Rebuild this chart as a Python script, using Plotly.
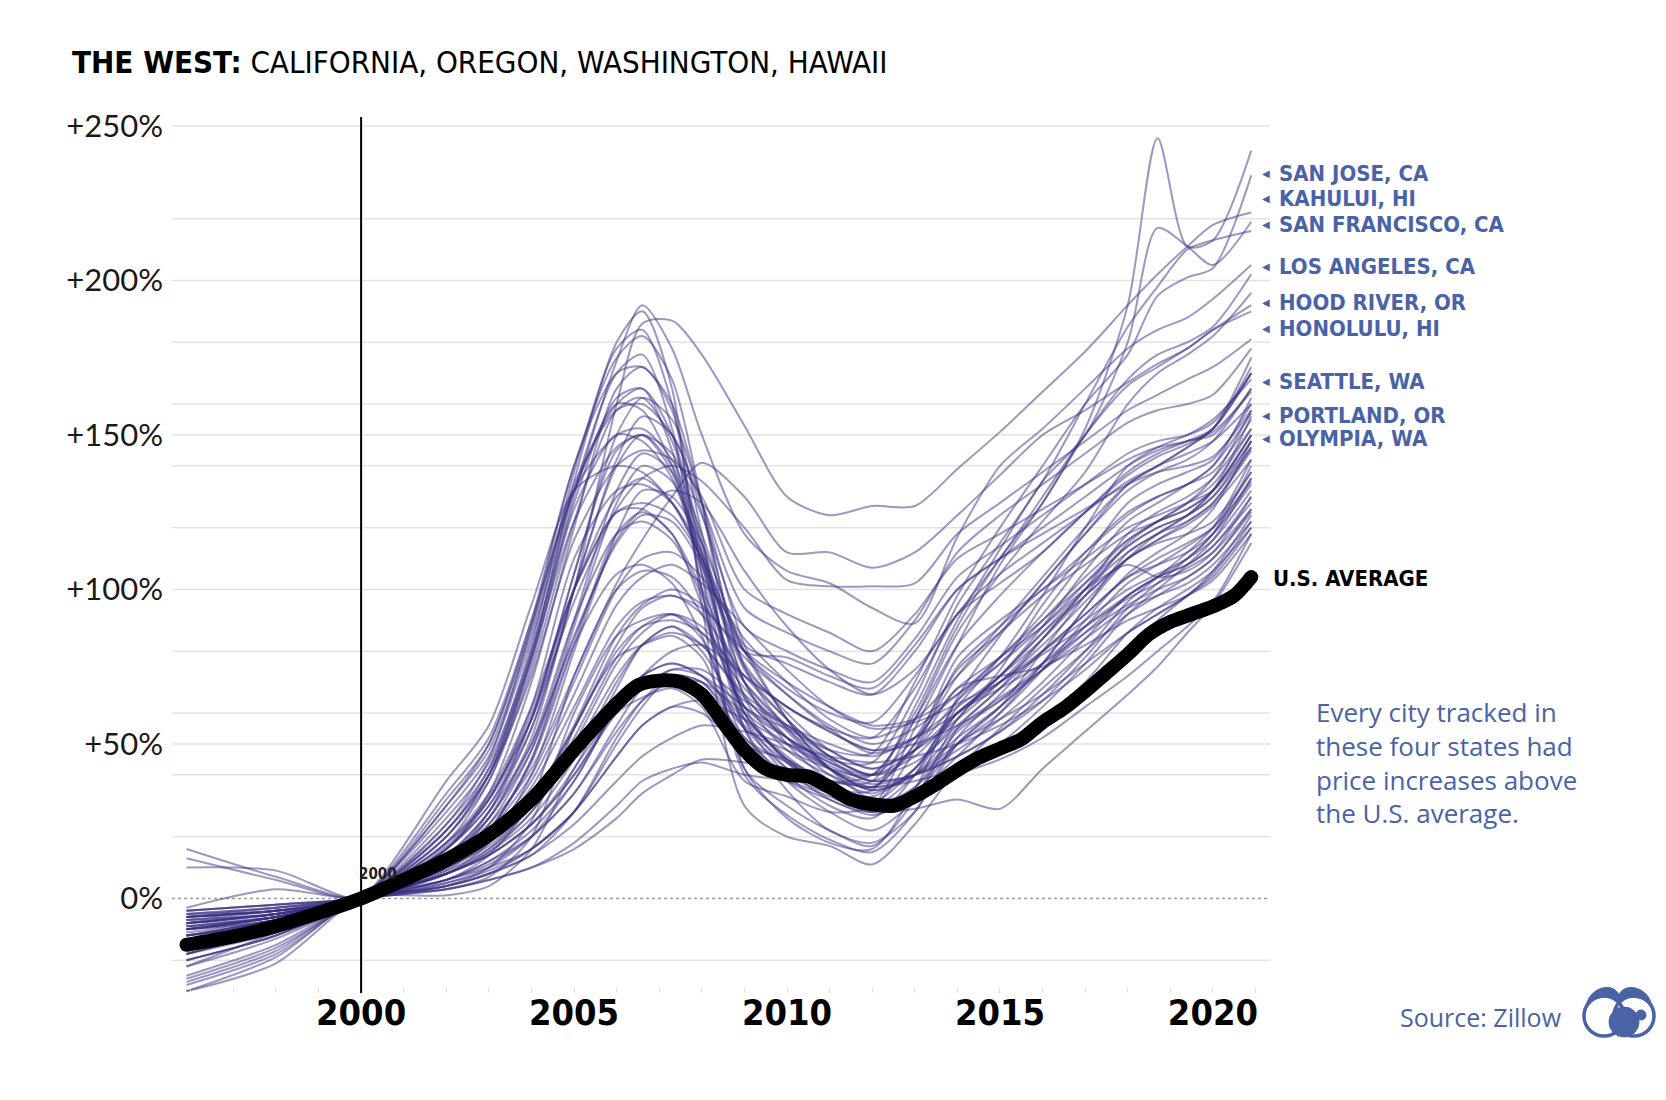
import plotly.graph_objects as go

# ---------------- data (percent change vs. Jan 2000) ----------------
YEARS = [1995.9, 1998, 2000, 2002, 2003, 2004, 2005, 2006, 2006.6, 2007.3, 2008, 2009, 2010,
         2011, 2012, 2013, 2014, 2015, 2016, 2017, 2018, 2018.7, 2019.4, 2020, 2020.9]

HAWAII = [
    [13, 6, 0, 16, 30, 55, 100, 160, 186, 187, 176, 153, 130, 124, 127, 127, 139, 151, 164, 177, 192, 202, 211, 218, 222],
    [16, 7, 0, 12, 24, 42, 72, 102, 116, 130, 141, 130, 112, 112, 107, 112, 124, 137, 150, 158, 167, 173, 178, 184, 190],
    [-3, 3, 0, 9, 20, 38, 66, 95, 104, 108, 102, 88, 74, 62, 55, 57, 63, 70, 79, 88, 97, 102, 107, 112, 126],
    [10, 9, 0, 17, 33, 58, 96, 126, 136, 140, 135, 120, 103, 101, 101, 102, 118, 128, 138, 148, 158, 163, 168, 172, 181],
]

BAY_AREA = [
    [-30, -19, 0, 1, 4, 16, 42, 60, 65, 68, 62, 38, 33, 28, 30, 55, 82, 108, 128, 152, 192, 246, 211, 213, 242],
    [-30, -21, 0, 3, 7, 20, 55, 78, 82, 85, 78, 50, 45, 38, 38, 62, 90, 113, 135, 150, 180, 217, 211, 205, 219],
    [-28, -18, 0, 6, 14, 32, 72, 100, 106, 104, 92, 62, 55, 48, 47, 70, 98, 120, 140, 160, 176, 195, 201, 204, 234],
    [-26, -16, 0, 12, 26, 50, 90, 118, 122, 116, 98, 62, 52, 45, 44, 65, 95, 115, 135, 160, 185, 198, 210, 213, 216],
    [-25, -15, 0, 10, 22, 45, 82, 105, 108, 102, 85, 55, 48, 42, 40, 60, 88, 110, 128, 150, 168, 176, 180, 185, 202],
    [-27, -17, 0, 4, 10, 25, 60, 85, 90, 92, 84, 52, 44, 36, 35, 58, 86, 105, 122, 138, 160, 170, 176, 182, 196],
    [-20, -12, 0, 16, 32, 62, 110, 132, 134, 128, 112, 80, 68, 60, 57, 72, 92, 102, 112, 125, 138, 144, 148, 152, 170],
    [-18, -10, 0, 28, 46, 84, 132, 160, 165, 150, 115, 60, 45, 38, 40, 58, 82, 98, 112, 125, 137, 143, 147, 152, 172],
]

SOCAL = [
    [-12, -8, 0, 26, 44, 80, 130, 174, 192, 178, 150, 118, 106, 102, 94, 89, 117, 140, 152, 165, 178, 184, 188, 194, 205],
    [-18, -10, 0, 38, 56, 95, 132, 140, 138, 128, 110, 80, 78, 72, 68, 82, 100, 110, 120, 130, 140, 145, 148, 150, 165],
    [-14, -9, 0, 30, 48, 86, 132, 150, 152, 142, 118, 82, 76, 70, 66, 80, 100, 110, 118, 126, 134, 138, 140, 143, 158],
    [-20, -12, 0, 22, 40, 72, 116, 140, 145, 142, 130, 100, 92, 86, 80, 92, 110, 118, 126, 134, 142, 146, 148, 151, 164],
    [-16, -10, 0, 30, 50, 88, 134, 158, 160, 150, 128, 94, 86, 80, 76, 90, 112, 124, 134, 144, 154, 158, 160, 163, 178],
    [-15, -9, 0, 24, 42, 78, 122, 146, 150, 144, 124, 88, 80, 74, 70, 84, 104, 114, 124, 134, 144, 148, 150, 154, 170],
]

CA_INLAND = [
    [-10, -7, 0, 18, 38, 78, 135, 180, 190, 165, 95, 30, 20, 17, 11, 24, 42, 55, 68, 80, 92, 98, 104, 110, 126],
    [-12, -8, 0, 22, 42, 82, 138, 178, 184, 160, 105, 42, 30, 22, 17, 32, 58, 72, 86, 98, 110, 116, 121, 127, 142],
    [-9, -6, 0, 20, 40, 80, 132, 170, 176, 152, 100, 40, 27, 19, 15, 28, 52, 66, 80, 92, 104, 110, 115, 120, 135],
    [-10, -7, 0, 24, 45, 88, 140, 175, 182, 168, 128, 65, 48, 40, 36, 50, 78, 90, 100, 110, 120, 124, 128, 132, 148],
    [-22, -13, 0, 20, 40, 78, 128, 162, 165, 145, 100, 42, 26, 18, 16, 35, 65, 85, 102, 118, 132, 138, 142, 148, 165],
    [-14, -9, 0, 34, 52, 90, 132, 160, 158, 140, 108, 60, 45, 35, 30, 48, 75, 88, 100, 112, 124, 130, 134, 138, 155],
    [-6, -4, 0, 14, 28, 55, 100, 140, 150, 140, 115, 70, 50, 38, 30, 40, 60, 70, 80, 90, 100, 105, 110, 116, 132],
    [-8, -5, 0, 12, 26, 52, 100, 142, 156, 150, 125, 75, 55, 45, 38, 48, 68, 72, 75, 82, 90, 94, 98, 103, 118],
    [-7, -5, 0, 10, 22, 45, 88, 128, 140, 135, 112, 70, 52, 40, 34, 42, 60, 68, 76, 86, 95, 100, 104, 110, 125],
    [-8, -6, 0, 16, 34, 70, 120, 165, 172, 158, 118, 55, 35, 22, 18, 28, 50, 62, 74, 86, 98, 104, 108, 114, 128],
    [-5, -4, 0, 8, 18, 40, 80, 118, 132, 130, 115, 80, 58, 42, 32, 32, 40, 45, 52, 62, 72, 80, 88, 96, 118],
    [-6, -4, 0, 12, 28, 58, 105, 145, 150, 138, 105, 55, 38, 28, 22, 32, 55, 68, 80, 92, 104, 108, 112, 118, 134],
    [-10, -6, 0, 18, 34, 62, 100, 125, 128, 124, 110, 80, 66, 55, 47, 52, 68, 78, 88, 100, 108, 104, 106, 112, 130],
    [-8, -5, 0, 16, 32, 60, 100, 125, 126, 118, 100, 70, 55, 42, 35, 40, 55, 65, 74, 84, 94, 98, 102, 108, 122],
    [-6, -4, 0, 10, 22, 44, 82, 118, 125, 118, 95, 60, 45, 36, 30, 36, 50, 58, 66, 76, 86, 92, 98, 104, 120],
    [-12, -7, 0, 32, 50, 90, 140, 170, 172, 160, 128, 75, 62, 55, 52, 68, 92, 105, 115, 125, 135, 140, 144, 148, 160],
    [-9, -6, 0, 20, 38, 74, 122, 158, 162, 148, 112, 58, 40, 30, 26, 40, 64, 78, 90, 102, 114, 120, 124, 130, 146],
    [-11, -7, 0, 22, 40, 76, 126, 150, 148, 136, 108, 66, 52, 44, 40, 52, 74, 86, 98, 108, 118, 122, 126, 132, 150],
    [-7, -5, 0, 12, 24, 48, 90, 132, 144, 138, 110, 62, 44, 34, 28, 36, 54, 64, 76, 88, 98, 104, 108, 114, 130],
]

NORTHWEST = [
    [-20, -12, 0, 6, 10, 16, 28, 50, 62, 72, 70, 52, 40, 34, 31, 42, 62, 78, 98, 120, 140, 146, 150, 155, 168],
    [-22, -11, 0, 4, 8, 14, 28, 52, 64, 72, 70, 55, 42, 36, 33, 42, 58, 74, 95, 112, 125, 130, 134, 140, 157],
    [-12, -7, 0, 8, 14, 24, 42, 68, 82, 88, 80, 58, 42, 32, 28, 34, 50, 62, 80, 98, 115, 122, 128, 136, 158],
    [-10, -6, 0, 8, 15, 26, 45, 70, 82, 88, 82, 65, 52, 42, 36, 40, 50, 60, 74, 90, 105, 112, 118, 126, 148],
    [-8, -5, 0, 10, 17, 30, 52, 78, 88, 92, 86, 68, 54, 42, 35, 40, 52, 62, 76, 94, 110, 118, 124, 132, 156],
    [-18, -10, 0, 10, 18, 32, 56, 85, 95, 100, 95, 78, 66, 56, 50, 55, 66, 78, 92, 110, 128, 134, 138, 142, 160],
    [-14, -8, 0, 8, 16, 30, 55, 82, 94, 98, 92, 72, 58, 46, 40, 44, 56, 68, 84, 100, 118, 125, 130, 136, 152],
    [-18, -11, 0, 16, 30, 58, 105, 150, 162, 155, 128, 82, 58, 42, 36, 50, 72, 88, 104, 120, 134, 140, 146, 152, 175],
    [-10, -6, 0, 18, 32, 58, 100, 130, 136, 128, 110, 74, 58, 46, 40, 48, 64, 76, 90, 104, 116, 122, 126, 132, 150],
    [-8, -5, 0, 6, 12, 22, 38, 62, 72, 76, 72, 56, 44, 36, 32, 34, 46, 60, 76, 94, 112, 118, 124, 132, 150],
    [-10, -6, 0, 8, 15, 28, 48, 72, 82, 86, 82, 66, 56, 48, 42, 48, 58, 70, 84, 100, 114, 120, 124, 130, 148],
    [-12, -7, 0, 8, 14, 24, 40, 60, 68, 74, 74, 64, 56, 50, 46, 52, 62, 72, 84, 98, 110, 115, 118, 122, 138],
    [-16, -9, 0, 14, 28, 50, 84, 116, 126, 132, 128, 106, 88, 74, 66, 74, 92, 110, 130, 150, 166, 172, 178, 184, 192],
    [-8, -5, 0, 14, 26, 48, 85, 115, 124, 122, 108, 76, 60, 48, 42, 48, 60, 72, 86, 100, 112, 118, 122, 128, 146],
    [-6, -4, 0, 8, 14, 24, 40, 62, 72, 80, 82, 72, 62, 54, 48, 52, 60, 70, 82, 96, 110, 116, 122, 128, 145],
    [-6, -3, 0, 6, 12, 20, 34, 56, 68, 74, 72, 62, 52, 44, 38, 40, 46, 54, 64, 78, 94, 102, 110, 118, 140],
    [-4, -2, 0, 4, 8, 14, 24, 38, 46, 52, 56, 54, 50, 46, 44, 46, 50, 56, 64, 74, 86, 92, 98, 106, 124],
    [-5, -3, 0, 3, 6, 10, 18, 30, 38, 42, 44, 40, 38, 33, 28, 29, 32, 29, 42, 54, 66, 75, 86, 95, 115],
    [-4, -2, 0, 4, 8, 16, 28, 46, 56, 62, 60, 48, 38, 32, 27, 32, 40, 50, 62, 76, 92, 100, 108, 116, 136],
    [-10, -6, 0, 10, 18, 32, 55, 80, 88, 90, 86, 72, 62, 54, 48, 50, 56, 64, 74, 88, 102, 108, 114, 120, 138],
    [-9, -6, 0, 10, 20, 36, 62, 88, 96, 98, 94, 80, 70, 62, 56, 58, 66, 76, 88, 102, 116, 122, 128, 134, 152],
    [-4, -2, 0, 5, 10, 20, 38, 62, 72, 76, 72, 58, 46, 36, 30, 34, 40, 48, 58, 70, 86, 94, 100, 106, 120],
    [-6, -4, 0, 3, 6, 10, 16, 26, 34, 40, 45, 44, 42, 38, 36, 38, 42, 48, 56, 66, 80, 90, 98, 105, 122],
    [-12, -7, 0, 9, 16, 28, 50, 76, 86, 92, 88, 70, 56, 46, 40, 46, 60, 72, 88, 106, 122, 128, 134, 140, 162],
    [-7, -4, 0, 6, 11, 20, 34, 54, 64, 70, 70, 60, 50, 42, 37, 40, 48, 58, 70, 84, 98, 104, 110, 118, 136],
    [-15, -9, 0, 12, 22, 40, 70, 100, 110, 112, 104, 84, 70, 58, 52, 58, 72, 86, 102, 118, 134, 140, 146, 152, 170],
    [-5, -3, 0, 5, 9, 16, 28, 46, 56, 62, 64, 58, 50, 43, 38, 40, 46, 54, 66, 80, 96, 104, 112, 120, 142],
]

US_YEARS = [1995.9, 1997, 1998, 1999, 2000, 2001, 2002, 2003, 2004, 2005, 2006, 2006.5, 2007, 2007.5,
            2008, 2008.5, 2009, 2009.5, 2010, 2010.5, 2011, 2011.5, 2012, 2012.5, 2013, 2013.5,
            2014, 2014.5, 2015, 2015.5, 2016, 2016.5, 2017, 2017.5, 2018, 2018.5, 2019, 2019.5,
            2020, 2020.5, 2020.9]
US_AVERAGE = [-15, -12.3, -9, -4.7, 0, 6, 12.5, 20.5, 32, 48, 63, 69, 70.5, 70,
              66, 57, 48, 42, 40, 39.5, 36, 32, 30.5, 30, 33, 37,
              41.5, 45.5, 48.5, 51.5, 57, 61.5, 67, 73, 79, 85.5, 89.5, 92,
              94.5, 98, 104]

CITY_LABELS = ["SAN JOSE, CA", "KAHULUI, HI", "SAN FRANCISCO, CA", "LOS ANGELES, CA",
               "HOOD RIVER, OR", "HONOLULU, HI", "SEATTLE, WA", "PORTLAND, OR", "OLYMPIA, WA"]
CITY_LABEL_Y = [234.7, 226.5, 218.2, 204.5, 192.8, 184.5, 167.3, 156.3, 148.8]

Y_TICKS = [0, 50, 100, 150, 200, 250]
Y_TICK_TEXT = ["0%", "+50%", "+100%", "+150%", "+200%", "+250%"]
X_TICKS = [2000, 2005, 2010, 2015, 2020]
FINE_GRID = [-20, 20, 40, 60, 80, 100, 120, 140, 160, 180, 200, 220]
NOTE_LINES = ["Every city tracked in", "these four states had",
              "price increases above", "the U.S. average."]

# ---------------- styling ----------------
OFF = 8                      # page body margin
W, H = 1666 - OFF, 1100 - OFF
PL, PR, PT, PB = 172 - OFF, 1270 - OFF, 117 - OFF, 993 - OFF
BLUE = "#4a62a6"
PURPLE = "rgba(58,50,132,0.5)"
COND = "DejaVu Sans Condensed"


def px_x(px):
    """page pixel -> paper x"""
    return (px - OFF - PL) / (PR - PL)


def px_y(py):
    """page pixel -> paper y"""
    return (PB - (py - OFF)) / (PB - PT)


fig = go.Figure()

for group in (HAWAII, BAY_AREA, SOCAL, CA_INLAND, NORTHWEST):
    for vals in group:
        fig.add_trace(go.Scatter(
            x=YEARS, y=vals, mode="lines",
            line=dict(color=PURPLE, width=2, shape="spline", smoothing=0.8),
            hoverinfo="skip", showlegend=False))

fig.add_trace(go.Scatter(
    x=US_YEARS, y=US_AVERAGE, mode="lines",
    line=dict(color="black", width=14, shape="spline", smoothing=0.8),
    hoverinfo="skip", showlegend=False))
fig.add_trace(go.Scatter(
    x=[US_YEARS[0], US_YEARS[-1]], y=[US_AVERAGE[0], US_AVERAGE[-1]], mode="markers",
    marker=dict(color="black", size=14), hoverinfo="skip", showlegend=False))

shapes = []
for v in FINE_GRID + [50, 150, 250]:
    shapes.append(dict(type="line", xref="paper", yref="y", x0=0, x1=1, y0=v, y1=v,
                       line=dict(color="#e3e3e3", width=1.5), layer="below"))
shapes.append(dict(type="line", xref="paper", yref="y", x0=0, x1=1, y0=0, y1=0,
                   line=dict(color="#9a9a9a", width=1.5, dash="dot"), layer="below"))
shapes.append(dict(type="line", xref="x", yref="paper", x0=2000, x1=2000, y0=0, y1=1,
                   line=dict(color="black", width=2), layer="above"))


def circ(cx, cy, r, **kw):
    return dict(type="circle", xref="paper", yref="paper",
                x0=px_x(cx - r), x1=px_x(cx + r), y0=px_y(cy + r), y1=px_y(cy - r), **kw)


# logo (rough)
shapes.append(circ(1604, 1016, 20, line=dict(color=BLUE, width=3.5)))
shapes.append(circ(1634, 1016, 20, line=dict(color=BLUE, width=3.5)))
pts = [(1586, 1006), (1590, 986), (1614, 982), (1619, 995), (1624, 982), (1648, 986), (1652, 1006),
       (1642, 995), (1626, 995), (1619, 1003), (1612, 995), (1596, 995), (1586, 1006)]
p = "M {} {} C {} {} {} {} {} {} C {} {} {} {} {} {} C {} {} {} {} {} {} C {} {} {} {} {} {} Z".format(
    *[c for (x, y) in pts for c in (px_x(x), px_y(y))])
shapes.append(dict(type="path", xref="paper", yref="paper", path=p,
                   fillcolor=BLUE, line=dict(color=BLUE, width=1)))
shapes.append(circ(1624, 1022, 15, fillcolor=BLUE, line=dict(color=BLUE, width=1)))
shapes.append(circ(1641, 1015, 5, fillcolor=BLUE, line=dict(color=BLUE, width=1)))

annotations = [
    dict(xref="paper", yref="paper", x=px_x(70), y=px_y(62), xanchor="left", yanchor="middle",
         showarrow=False, text="<b>THE WEST:</b> CALIFORNIA, OREGON, WASHINGTON, HAWAII",
         font=dict(family=COND, size=31, color="black")),
    dict(xref="x", yref="y", x=2000.4, y=7.8, showarrow=False, text="<b>2000</b>",
         font=dict(family=COND, size=15, color="#222")),
    dict(xref="paper", yref="y", x=px_x(1271), y=103.7, xanchor="left", yanchor="middle",
         showarrow=False, text="<b>U.S. AVERAGE</b>", font=dict(family=COND, size=22, color="black")),
    dict(xref="paper", yref="paper", x=px_x(1564), y=px_y(1017), xanchor="right", yanchor="middle",
         showarrow=False, text="Source: Zillow", font=dict(family="Open Sans", size=25, color=BLUE)),
    dict(xref="paper", yref="paper", x=px_x(1314), y=px_y(762), xanchor="left", yanchor="middle",
         align="left", showarrow=False, text="<br>".join(NOTE_LINES),
         font=dict(family="Open Sans", size=26, color=BLUE)),
]
for lab, yv in zip(CITY_LABELS, CITY_LABEL_Y):
    annotations.append(dict(xref="paper", yref="y", x=px_x(1266), y=yv, xanchor="center",
                            yanchor="middle", showarrow=False, text="◀",
                            font=dict(family="DejaVu Sans", size=10, color=BLUE)))
    annotations.append(dict(xref="paper", yref="y", x=px_x(1277), y=yv, xanchor="left",
                            yanchor="middle", showarrow=False, text="<b>" + lab + "</b>",
                            font=dict(family=COND, size=22, color=BLUE)))

fig.update_layout(
    width=W, height=H, paper_bgcolor="white", plot_bgcolor="white",
    margin=dict(l=PL, r=W - PR, t=PT, b=H - PB, pad=0),
    shapes=shapes, annotations=annotations,
    xaxis=dict(range=[1995.56, 2021.34], tickvals=X_TICKS, ticktext=[str(v) for v in X_TICKS],
               tickfont=dict(family=COND, size=36, color="black", weight="bold"),
               ticks="inside", ticklen=5, tickcolor="#dddddd", tickwidth=1, ticklabelstandoff=-5,
               minor=dict(dtick=1, tick0=1996, ticks="inside", ticklen=5, tickcolor="#dddddd"),
               showgrid=False, zeroline=False, showline=False, fixedrange=True),
    yaxis=dict(range=[-30.6, 252.9], tickvals=Y_TICKS, ticktext=Y_TICK_TEXT,
               tickfont=dict(family="Lato", size=31, color="#1a1a1a"),
               ticks="", showgrid=False, zeroline=False, showline=False, ticklabelstandoff=8,
               fixedrange=True),
)

fig.write_html("out.html")
